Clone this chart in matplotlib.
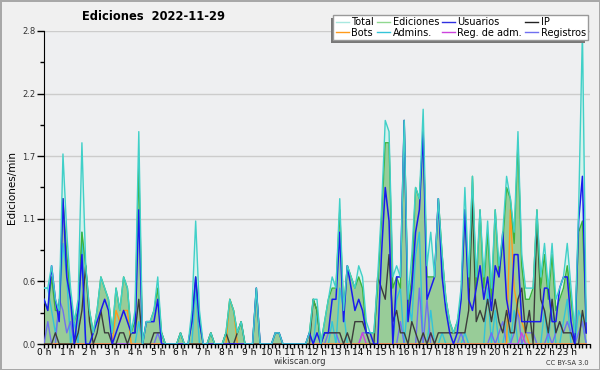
import numpy as np
import matplotlib
matplotlib.use("Agg")
import matplotlib.pyplot as plt
from matplotlib import patheffects
from matplotlib.ticker import FixedLocator, MultipleLocator, FormatStrFormatter

# edits per minute, one value per 10 minutes (6 per hour, 24 hours)
total = [
    0.5, 0.5, 0.7, 0.4, 0.3, 1.7,
    1.0, 0.5, 0.2, 0.4, 1.8, 0.7,
    0.3, 0.1, 0.3, 0.6, 0.5, 0.4,
    0.1, 0.5, 0.3, 0.6, 0.5, 0.1,
    0.3, 1.9, 0.0, 0.2, 0.2, 0.3,
    0.6, 0.1, 0.0, 0.0, 0.0, 0.0,
    0.1, 0.0, 0.0, 0.3, 1.1, 0.3,
    0.0, 0.0, 0.1, 0.0, 0.0, 0.0,
    0.1, 0.4, 0.3, 0.1, 0.2, 0.0,
    0.0, 0.0, 0.5, 0.0, 0.0, 0.0,
    0.0, 0.1, 0.1, 0.0, 0.0, 0.0,
    0.0, 0.0, 0.0, 0.0, 0.1, 0.4,
    0.4, 0.0, 0.2, 0.4, 0.6, 0.5,
    1.3, 0.3, 0.7, 0.6, 0.5, 0.7,
    0.6, 0.2, 0.1, 0.1, 0.6, 1.2,
    2.0, 1.9, 0.6, 0.7, 0.6, 2.0,
    0.4, 0.8, 1.4, 1.3, 2.1, 0.7,
    1.0, 0.6, 1.3, 0.8, 0.4, 0.2,
    0.1, 0.2, 0.5, 1.4, 0.6, 1.5,
    0.6, 1.2, 0.6, 1.1, 0.5, 1.2,
    0.7, 1.0, 1.5, 1.3, 1.0, 1.9,
    0.8, 0.5, 0.5, 0.5, 1.2, 0.6,
    0.9, 0.5, 0.9, 0.4, 0.5, 0.6,
    0.9, 0.5, 0.1, 1.2, 2.8, 0.2,
]
ediciones = [
    0.4, 0.3, 0.6, 0.3, 0.3, 1.3,
    0.8, 0.4, 0.2, 0.3, 1.0, 0.7,
    0.3, 0.1, 0.3, 0.6, 0.5, 0.4,
    0.1, 0.5, 0.3, 0.6, 0.5, 0.1,
    0.2, 1.6, 0.0, 0.2, 0.2, 0.3,
    0.5, 0.1, 0.0, 0.0, 0.0, 0.0,
    0.1, 0.0, 0.0, 0.2, 0.6, 0.2,
    0.0, 0.0, 0.1, 0.0, 0.0, 0.0,
    0.1, 0.4, 0.3, 0.1, 0.2, 0.0,
    0.0, 0.0, 0.5, 0.0, 0.0, 0.0,
    0.0, 0.1, 0.1, 0.0, 0.0, 0.0,
    0.0, 0.0, 0.0, 0.0, 0.1, 0.4,
    0.3, 0.0, 0.2, 0.4, 0.5, 0.5,
    1.2, 0.3, 0.7, 0.6, 0.5, 0.6,
    0.5, 0.1, 0.1, 0.1, 0.5, 1.1,
    1.8, 1.8, 0.5, 0.6, 0.5, 2.0,
    0.3, 0.6, 1.4, 1.3, 1.9, 0.6,
    0.6, 0.6, 1.3, 0.8, 0.4, 0.2,
    0.1, 0.2, 0.4, 1.2, 0.5, 1.5,
    0.5, 1.2, 0.5, 1.0, 0.4, 1.2,
    0.6, 0.9, 1.4, 1.3, 0.9, 1.8,
    0.7, 0.4, 0.4, 0.5, 1.2, 0.5,
    0.8, 0.4, 0.8, 0.3, 0.4, 0.5,
    0.7, 0.4, 0.1, 1.0, 1.1, 0.2,
]
usuarios = [
    0.4, 0.3, 0.7, 0.4, 0.2, 1.3,
    0.6, 0.4, 0.0, 0.3, 0.8, 0.0,
    0.0, 0.1, 0.2, 0.3, 0.4, 0.3,
    0.0, 0.1, 0.2, 0.3, 0.2, 0.1,
    0.1, 1.2, 0.0, 0.2, 0.2, 0.2,
    0.4, 0.0, 0.0, 0.0, 0.0, 0.0,
    0.0, 0.0, 0.0, 0.2, 0.6, 0.2,
    0.0, 0.0, 0.0, 0.0, 0.0, 0.0,
    0.0, 0.0, 0.0, 0.0, 0.0, 0.0,
    0.0, 0.0, 0.5, 0.0, 0.0, 0.0,
    0.0, 0.1, 0.1, 0.0, 0.0, 0.0,
    0.0, 0.0, 0.0, 0.0, 0.1, 0.0,
    0.1, 0.0, 0.1, 0.1, 0.4, 0.4,
    1.0, 0.2, 0.7, 0.5, 0.3, 0.4,
    0.3, 0.1, 0.1, 0.0, 0.0, 0.8,
    1.4, 1.1, 0.0, 0.6, 0.6, 2.0,
    0.2, 0.5, 1.0, 1.2, 1.9, 0.4,
    0.5, 0.6, 1.3, 0.6, 0.3, 0.1,
    0.0, 0.1, 0.4, 1.2, 0.4, 0.3,
    0.5, 0.7, 0.4, 0.6, 0.3, 0.7,
    0.6, 1.0, 0.4, 0.2, 0.8, 0.8,
    0.2, 0.2, 0.2, 0.2, 0.2, 0.2,
    0.5, 0.5, 0.2, 0.2, 0.5, 0.6,
    0.6, 0.2, 0.0, 1.1, 1.5, 0.1,
]
ip = [
    0.0, 0.0, 0.0, 0.1, 0.0, 0.0,
    0.0, 0.0, 0.0, 0.1, 0.3, 0.7,
    0.2, 0.0, 0.1, 0.3, 0.1, 0.1,
    0.0, 0.0, 0.1, 0.1, 0.0, 0.1,
    0.1, 0.4, 0.0, 0.0, 0.0, 0.1,
    0.1, 0.1, 0.0, 0.0, 0.0, 0.0,
    0.1, 0.0, 0.0, 0.0, 0.0, 0.0,
    0.0, 0.0, 0.1, 0.0, 0.0, 0.0,
    0.1, 0.0, 0.0, 0.1, 0.2, 0.0,
    0.0, 0.0, 0.0, 0.0, 0.0, 0.0,
    0.0, 0.0, 0.0, 0.0, 0.0, 0.0,
    0.0, 0.0, 0.0, 0.0, 0.0, 0.4,
    0.3, 0.0, 0.1, 0.1, 0.1, 0.1,
    0.1, 0.0, 0.1, 0.0, 0.2, 0.2,
    0.2, 0.1, 0.0, 0.0, 0.6, 0.5,
    0.4, 0.8, 0.2, 0.3, 0.1, 0.1,
    0.0, 0.2, 0.1, 0.0, 0.1, 0.0,
    0.1, 0.0, 0.1, 0.1, 0.1, 0.1,
    0.1, 0.1, 0.1, 0.1, 0.3, 1.3,
    0.2, 0.3, 0.2, 0.4, 0.2, 0.4,
    0.2, 0.1, 0.3, 0.1, 0.1, 0.4,
    0.5, 0.1, 0.3, 0.0, 1.1, 0.4,
    0.3, 0.1, 0.4, 0.1, 0.2, 0.1,
    0.1, 0.1, 0.0, 0.0, 0.3, 0.1,
]
admins = [
    0.5, 0.5, 0.3, 0.1, 0.3, 0.9,
    0.6, 0.0, 0.2, 0.0, 1.0, 0.0,
    0.0, 0.0, 0.0, 0.0, 0.0, 0.0,
    0.0, 0.0, 0.0, 0.0, 0.0, 0.0,
    0.0, 0.2, 0.0, 0.0, 0.0, 0.0,
    0.0, 0.0, 0.0, 0.0, 0.0, 0.0,
    0.0, 0.0, 0.0, 0.0, 0.5, 0.0,
    0.0, 0.0, 0.0, 0.0, 0.0, 0.0,
    0.0, 0.0, 0.0, 0.0, 0.0, 0.0,
    0.0, 0.0, 0.0, 0.0, 0.0, 0.0,
    0.0, 0.0, 0.0, 0.0, 0.0, 0.0,
    0.0, 0.0, 0.0, 0.0, 0.0, 0.0,
    0.3, 0.0, 0.0, 0.0, 0.2, 0.0,
    0.5, 0.3, 0.0, 0.0, 0.0, 0.0,
    0.0, 0.0, 0.0, 0.0, 0.0, 0.0,
    0.0, 0.0, 0.0, 0.4, 0.5, 0.0,
    0.4, 0.2, 0.8, 1.0, 0.0, 0.0,
    0.3, 0.0, 0.0, 0.1, 0.0, 0.0,
    0.0, 0.0, 0.0, 0.1, 0.0, 0.0,
    0.0, 0.0, 0.0, 0.5, 0.0, 0.3,
    0.0, 0.0, 0.2, 0.0, 0.3, 0.0,
    0.0, 0.0, 0.0, 0.0, 0.0, 0.0,
    0.3, 0.0, 0.4, 0.0, 0.0, 0.2,
    0.4, 0.0, 0.0, 0.3, 0.2, 0.0,
]
registros = [
    0.0, 0.2, 0.0, 0.0, 0.4, 0.3,
    0.1, 0.2, 0.0, 0.0, 0.0, 0.0,
    0.0, 0.0, 0.0, 0.0, 0.0, 0.0,
    0.0, 0.0, 0.0, 0.0, 0.0, 0.0,
    0.0, 0.0, 0.0, 0.0, 0.0, 0.0,
    0.1, 0.0, 0.0, 0.0, 0.0, 0.0,
    0.0, 0.0, 0.0, 0.0, 0.0, 0.0,
    0.0, 0.0, 0.0, 0.0, 0.0, 0.0,
    0.0, 0.0, 0.0, 0.0, 0.0, 0.0,
    0.0, 0.0, 0.0, 0.0, 0.0, 0.0,
    0.0, 0.0, 0.0, 0.0, 0.0, 0.0,
    0.0, 0.0, 0.0, 0.0, 0.0, 0.0,
    0.0, 0.0, 0.0, 0.1, 0.1, 0.1,
    0.0, 0.0, 0.0, 0.0, 0.0, 0.0,
    0.1, 0.1, 0.0, 0.0, 0.0, 0.0,
    0.0, 0.0, 0.0, 0.0, 0.2, 0.0,
    0.0, 0.0, 0.0, 0.5, 0.0, 0.4,
    0.0, 0.0, 0.0, 0.0, 0.0, 0.0,
    0.0, 0.0, 0.1, 0.0, 0.0, 0.0,
    0.0, 0.0, 0.0, 0.0, 0.1, 0.0,
    0.1, 0.2, 0.0, 0.0, 0.1, 0.3,
    0.0, 0.1, 0.1, 0.1, 0.0, 0.0,
    0.0, 0.1, 0.0, 0.1, 0.2, 0.1,
    0.2, 0.1, 0.0, 0.1, 0.2, 0.0,
]
bots = [0.0] * 144
bots[19:23] = [0.3, 0.2, 0.3, 0.3]
bots[49:51] = [0.4, 0.3]
bots[122:128] = [0.0, 1.2, 0.5, 0.3, 0.2, 0.1]
reg_adm = [0.0] * 144
reg_adm[84] = 0.1
reg_adm[102] = 0.1
reg_adm[126] = 0.1

hours = np.arange(144) / 6.0
hour_labels = ["%d h" % h for h in range(24)]

fig = plt.figure(figsize=(6, 3.7), dpi=100)
fig.patch.set_facecolor("#f0f0f0")
fig.patch.set_edgecolor("#a8a8a8")
fig.patch.set_linewidth(2)
ax = fig.add_axes([44 / 600, 26 / 370, 546 / 600, 313 / 370])
ax.set_facecolor("#eeeff1")

ax.fill_between(hours, total, color="#d4f2ec", lw=0, zorder=1)
ax.fill_between(hours, ediciones, color="#98cc98", lw=0, zorder=2)
ax.plot(hours, admins, color="#33c4d8", lw=1, zorder=3)
ax.plot(hours, registros, color="#6f6ff0", lw=1, zorder=3)
ax.plot(hours, reg_adm, color="#cc44dd", lw=1, zorder=3)
ax.plot(hours, bots, color="#ff9a1a", lw=1, zorder=4)
ax.plot(hours, ip, color="#3c3c3c", lw=1, zorder=4)
ax.plot(hours, ediciones, color="#3cb43c", lw=1, zorder=5)
ax.plot(hours, usuarios, color="#1a1aee", lw=1.1, zorder=6)
ax.plot(hours, total, color="#40d0c8", lw=1, zorder=7)

ax.set_xlim(0, 24)
ax.set_ylim(0, 2.8)
ax.xaxis.set_major_locator(FixedLocator(range(24)))
ax.set_xticklabels(hour_labels)
ax.xaxis.set_minor_locator(MultipleLocator(1 / 6))
ax.yaxis.set_major_locator(FixedLocator(np.linspace(0, 2.8, 6)))
ax.yaxis.set_minor_locator(MultipleLocator(0.28))
ax.yaxis.set_major_formatter(FormatStrFormatter("%.1f"))
ax.tick_params(axis="x", which="major", length=3, width=1, labelsize=6.5, pad=0)
ax.tick_params(axis="x", which="minor", length=3, width=1)
ax.tick_params(axis="y", which="major", length=5, width=1, labelsize=6, pad=1, labelcolor="#333333")
ax.tick_params(axis="y", which="minor", length=3, width=1)
ax.grid(axis="y", color="#cccccc", lw=1)
ax.set_axisbelow(True)
for s in ["top", "right"]:
    ax.spines[s].set_visible(False)

ax.set_ylabel("Ediciones/min", fontsize=7.5, labelpad=4)
fig.text(154 / 600, 1 - 16 / 370, "Ediciones  2022-11-29", fontsize=8.3, fontweight="bold",
         ha="center", va="center")
fig.text(300 / 600, 1 - 362 / 370, "wikiscan.org", fontsize=6, ha="center", va="center",
         color="#333333")
fig.text(589 / 600, 1 - 363 / 370, "CC BY-SA 3.0", fontsize=4.8, ha="right", va="center",
         color="#333333")

names = ["Total", "Bots", "Ediciones", "Admins.", "Usuarios", "Reg. de adm.", "IP", "Registros"]
colors = ["#a8e8e0", "#ff9a1a", "#90d890", "#33c4d8", "#3030e0", "#cc44dd", "#222222", "#7070f0"]
handles = [plt.Line2D([], [], color=c, lw=1) for c in colors]
leg = ax.legend(handles, names, ncol=4, loc="upper right", bbox_to_anchor=(593 / 600, 1 - 10 / 370),
                bbox_transform=fig.transFigure, fontsize=7, handlelength=1.3, handletextpad=0.3,
                columnspacing=0.3, labelspacing=0.05, borderpad=0.25, fancybox=False,
                framealpha=1, edgecolor="#999999")
leg.set_zorder(20)
leg.get_frame().set_path_effects([
    patheffects.SimplePatchShadow(offset=(-2, -2), shadow_rgbFace="#777777", alpha=1),
    patheffects.Normal()])

fig.savefig("out.png", dpi=100, facecolor=fig.get_facecolor(), edgecolor=fig.get_edgecolor())
